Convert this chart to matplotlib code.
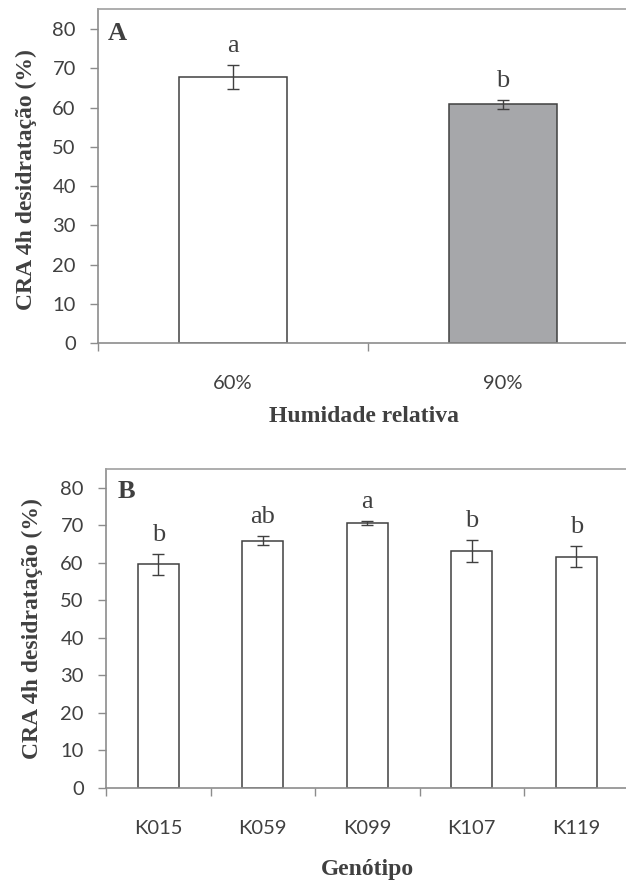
import matplotlib
matplotlib.use("Agg")
import matplotlib.pyplot as plt
import numpy as np

# Panel A data
humidity = ["60%", "90%"]
cra_humidity = [67.7, 60.8]
err_humidity = [3.0, 1.1]
letters_humidity = ["a", "b"]
colors_humidity = ["#FFFFFF", "#A6A7AA"]

# Panel B data
genotypes = ["K015", "K059", "K099", "K107", "K119"]
cra_genotype = [59.6, 65.9, 70.6, 63.2, 61.6]
err_genotype = [2.9, 1.2, 0.6, 3.0, 2.8]
letters_genotype = ["b", "ab", "a", "b", "b"]

yticks = [0, 10, 20, 30, 40, 50, 60, 70, 80]

TXT = "#404040"
SPINE = "#8C8C8C"
W, H = 626, 885

fig = plt.figure(figsize=(W / 100, H / 100), dpi=100)

tick_font = "Lato"
serif = "Liberation Serif"


def px_axes(left, top_px, right, bottom_px):
    return fig.add_axes([left / W, (H - bottom_px) / H, (right - left) / W, (bottom_px - top_px) / H])


def style(ax, cats, vals, errs, letters, colors, width, panel, panel_xy):
    x = np.arange(len(cats))
    ax.bar(x, vals, width=width, color=colors, edgecolor="#404040", linewidth=1.1, zorder=2)
    ax.errorbar(x, vals, yerr=errs, fmt="none", ecolor="#404040", elinewidth=1.0,
                capsize=4, capthick=1.0, zorder=3)
    for xi, v, e, l in zip(x, vals, errs, letters):
        ax.annotate(l, (xi, v + e), xytext=(0, 13), textcoords="offset pixels",
                    ha="center", va="baseline", fontsize=19, family=serif, color=TXT)
    ax.set_xlim(-0.5, len(cats) - 0.5)
    ax.set_ylim(0, 85)
    ax.set_yticks(yticks)
    ax.set_yticklabels([str(t) for t in yticks], family=tick_font, fontsize=14.5, color=TXT)
    ax.set_xticks(x)
    ax.set_xticklabels(cats, family=tick_font, fontsize=14.5, color=TXT)
    ax.set_xticks(np.arange(len(cats) + 1) - 0.5, minor=True)
    ax.tick_params(axis="x", which="major", length=0, pad=23)
    ax.tick_params(axis="x", which="minor", length=6, width=1, color=SPINE, direction="out")
    ax.tick_params(axis="y", which="major", length=6, width=1, color=SPINE, direction="out", pad=10)
    for s in ax.spines.values():
        s.set_color(SPINE)
        s.set_linewidth(1.2)
    ax.spines["top"].set_color("#A0A0A0")
    ax.text(panel_xy[0], panel_xy[1], panel, transform=ax.transAxes, fontsize=19,
            fontweight="bold", family=serif, color=TXT, ha="left", va="center")


axA = px_axes(98, 9.3, 638, 343.3)
style(axA, humidity, cra_humidity, err_humidity, letters_humidity, colors_humidity, 0.40,
      "A", (0.018, (343.3 - 33) / (343.3 - 9.3)))

axB = px_axes(106, 469.3, 628.5, 787.7)
style(axB, genotypes, cra_genotype, err_genotype, letters_genotype, ["#FFFFFF"] * 5, 0.39,
      "B", (0.022, (787.7 - 492) / (787.7 - 469.3)))

lab_kw = dict(family=serif, fontweight="bold", fontsize=17, color=TXT, ha="center", va="center")
fig.text(26 / W, 1 - 180 / H, "CRA 4h desidratação (%)", rotation=90, **lab_kw)
fig.text(364 / W, 1 - 417 / H, "Humidade relativa", **lab_kw)
fig.text(32 / W, 1 - 629 / H, "CRA 4h desidratação (%)", rotation=90, **lab_kw)
fig.text(367 / W, 1 - 870 / H, "Genótipo", **lab_kw)

fig.savefig("out.png", dpi=100)
